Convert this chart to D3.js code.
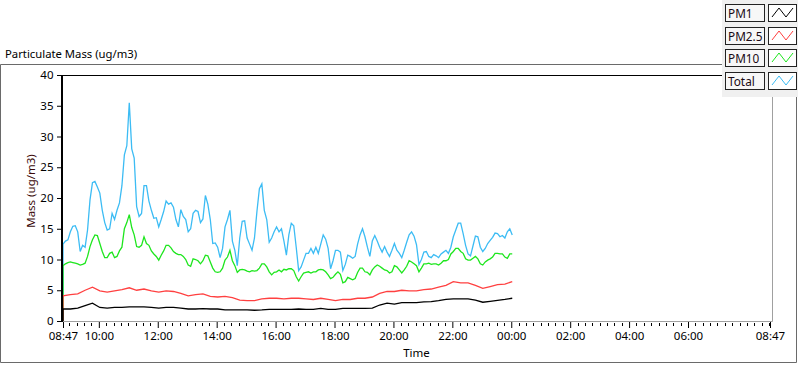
<!DOCTYPE html>
<html><head><meta charset="utf-8">
<script src="https://cdn.jsdelivr.net/npm/d3@7"></script>
<style>
body{margin:0;background:#fff}
svg{display:block}
text{font-family:"Segoe UI","Noto Sans",sans-serif}
</style>
</head><body>
<svg id="chart" width="800" height="365"></svg>
<script>
// ---------------- DATA ----------------
const chartTitle = "Particulate Mass (ug/m3)";
const yAxisTitle = "Mass (ug/m3)";
const xAxisTitle = "Time";
const startTime = "08:47";           // first reading
const fineStepMinutes = 5;           // PM10 / Total sampling
const coarseStepMinutes = 15;        // PM1 / PM2.5 sampling
const seriesNames = ["PM1", "PM2.5", "PM10", "Total"];
const xTickLabels = ["08:47","10:00","12:00","14:00","16:00","18:00","20:00","22:00","00:00","02:00","04:00","06:00","08:47"];
const yTickValues = [0,5,10,15,20,25,30,35,40];

// each series starts with the initial 0 reading at the start time
const totalValues = [0,
12.5,13.0,13.2,14.5,15.4,15.5,14.5,11.3,12.3,12.0,
14.8,19.7,22.5,22.7,21.8,20.8,18.0,16.0,14.8,15.0,
17.5,16.5,18.0,19.2,22.0,27.0,28.5,35.5,28.0,26.5,
18.6,17.0,17.5,22.0,22.0,19.5,18.0,16.7,16.8,15.3,
16.5,17.8,19.5,19.0,19.2,18.5,16.5,15.3,18.1,17.0,
16.5,14.5,15.0,17.5,18.0,17.8,16.0,16.6,20.4,19.0,
16.5,12.6,12.7,12.0,10.3,11.8,15.3,16.5,18.0,13.0,
11.5,9.0,13.5,16.2,16.3,13.5,12.5,11.5,13.5,17.8,
21.5,22.3,18.0,16.5,12.8,13.5,14.5,15.3,14.5,15.0,
13.0,10.7,14.0,15.9,15.5,12.0,8.2,8.8,9.9,11.0,
11.0,11.8,11.0,12.0,11.0,12.5,14.0,13.3,11.8,8.5,
9.8,11.5,11.5,11.2,8.2,9.2,10.7,10.5,10.2,10.5,
12.5,14.0,15.0,13.7,12.0,10.5,13.0,13.9,13.0,12.0,
11.2,12.1,11.2,10.5,11.5,12.6,11.5,11.0,10.3,11.5,
12.8,14.0,14.5,13.8,12.4,9.2,10.0,11.2,11.3,10.5,
10.3,10.8,10.6,10.3,10.9,11.2,11.5,11.0,12.0,13.7,
14.8,15.9,15.9,14.2,12.3,10.9,10.6,12.2,13.8,13.7,
12.0,11.3,11.8,12.6,13.1,13.6,14.3,14.2,13.7,13.9,
13.5,14.5,15.0,14.0];

const pm10Values = [0,
9.0,9.3,9.5,9.6,9.5,9.4,9.3,9.1,9.2,9.4,
10.5,12.1,13.2,14.0,13.9,12.6,11.3,10.3,10.3,11.0,
11.2,10.3,10.5,11.4,12.0,15.0,16.0,17.3,15.2,14.0,
12.1,12.0,12.3,13.7,12.6,12.3,11.4,10.9,10.5,9.9,
10.7,11.4,12.3,12.3,11.9,11.3,11.0,10.8,10.8,10.5,
10.0,9.1,8.9,10.1,10.0,9.8,9.3,9.8,10.7,10.6,
9.6,8.6,8.0,7.9,8.0,8.6,9.9,10.4,11.5,9.8,
9.0,7.9,8.3,8.4,8.3,8.1,8.0,8.2,8.1,8.2,
8.6,9.3,9.3,8.8,8.0,7.5,7.9,8.0,8.3,8.0,
8.4,8.3,8.5,8.5,8.2,7.2,6.5,7.2,7.8,7.9,
8.0,7.8,8.0,8.0,8.3,8.4,8.3,8.0,7.5,6.9,
7.1,7.6,8.0,7.6,6.2,6.4,7.1,6.9,6.7,6.9,
7.9,8.6,8.6,8.0,7.9,7.5,8.3,8.8,9.1,8.9,
8.6,8.3,8.2,7.8,8.0,9.0,8.8,8.3,7.8,8.3,
8.9,9.8,9.6,9.3,9.0,8.0,8.6,9.3,9.3,9.4,
9.2,9.3,9.3,9.1,9.4,9.8,9.8,10.0,10.9,11.3,
11.8,11.8,11.3,11.0,10.1,9.9,9.9,10.2,10.5,10.1,
9.3,9.1,9.6,9.9,10.1,10.4,11.0,11.0,10.9,10.9,
10.4,10.2,10.9,10.9];

const pm25Values = [0,
4.1,4.3,4.4,5.0,5.5,4.9,4.7,4.9,5.1,5.4,
5.0,5.2,4.9,4.7,4.9,4.8,4.5,4.1,4.3,4.4,
4.0,3.9,4.0,3.8,3.4,3.3,3.3,3.6,3.7,3.7,
3.6,3.7,3.7,3.6,3.5,3.7,3.5,3.3,3.5,3.5,
3.7,3.7,3.9,4.5,4.8,4.8,5.0,4.9,4.9,5.1,
5.2,5.5,5.8,6.4,6.2,6.2,5.8,5.3,5.6,5.9,
6.0,6.4];

const pm1Values = [0,
1.95,1.95,2.1,2.5,2.9,2.2,2.1,2.2,2.2,2.3,
2.3,2.3,2.2,2.1,2.2,2.2,2.1,1.95,1.95,2.0,
1.95,1.95,1.8,1.8,1.8,1.8,1.75,1.8,1.9,1.9,
1.9,1.9,1.95,1.9,1.9,2.05,1.9,1.9,2.05,2.05,
2.05,2.05,2.1,2.6,2.9,2.75,3.0,3.0,3.0,3.1,
3.15,3.3,3.5,3.6,3.6,3.6,3.4,3.05,3.2,3.35,
3.5,3.7];

// ---------------- STYLE / LAYOUT ----------------
const colors = {"PM1":"#000000","PM2.5":"#ff4040","PM10":"#1ee61e","Total":"#3cbcf4"};
const W = 800, H = 365;
const plot = {left:63, right:770, top:75, bottom:321};
const FONT = '"Segoe UI","Noto Sans",sans-serif';

const svg = d3.select("#chart");
const day = new Date(2021, 0, 1);
const [sh, sm] = startTime.split(":").map(Number);
const t0 = d3.timeMinute.offset(d3.timeHour.offset(day, sh), sm);
const t1 = d3.timeDay.offset(t0, 1);

// major tick dates from labels (roll over midnight)
const majorDates = [];
xTickLabels.forEach((lab, i) => {
  const [h, m] = lab.split(":").map(Number);
  let d = d3.timeMinute.offset(d3.timeHour.offset(day, h), m);
  while (i > 0 && d <= majorDates[i-1]) d = d3.timeDay.offset(d, 1);
  majorDates.push(d);
});

const x = d3.scaleTime().domain([t0, t1]).range([plot.left, plot.right]);
const y = d3.scaleLinear().domain([0, 40]).range([plot.bottom, plot.top]);

function toPoints(values, step) {
  return values.map((v, k) => ({t: d3.timeMinute.offset(t0, k === 0 ? 0 : (k - 1) * step), v}));
}
const series = [
  {name:"Total", pts: toPoints(totalValues, fineStepMinutes)},
  {name:"PM10", pts: toPoints(pm10Values, fineStepMinutes)},
  {name:"PM2.5", pts: toPoints(pm25Values, coarseStepMinutes)},
  {name:"PM1", pts: toPoints(pm1Values, coarseStepMinutes)}
];

// outer panel
svg.append("rect").attr("x",0).attr("y",0).attr("width",W).attr("height",H).attr("fill","#fff");
svg.append("text").attr("x",5).attr("y",58).attr("font-size",11.3).attr("fill","#000").text(chartTitle);
svg.append("path").attr("d","M0.5,64.5H723 M0.5,64.5V362.5H796.5V96").attr("fill","none").attr("stroke","#6a6a6a").attr("stroke-width",1);

// plot frame
svg.append("rect").attr("x",plot.left).attr("y",plot.top).attr("width",plot.right+2-plot.left).attr("height",plot.bottom-plot.top).attr("fill","#fff");
svg.append("path").attr("d",`M${plot.left},${plot.top+0.5}H${plot.right+2.5}V${plot.bottom+0.5}H${plot.left}`)
  .attr("fill","none").attr("stroke","#a0a0a0");
svg.append("line").attr("x1",plot.left).attr("x2",plot.right+2).attr("y1",plot.top+0.5).attr("y2",plot.top+0.5).attr("stroke","#000");

// lines
const line = d3.line().x(d => x(d.t)).y(d => y(d.v));
const gLines = svg.append("g");
series.forEach(s => {
  gLines.append("path").datum(s.pts).attr("d", line)
    .attr("fill","none").attr("stroke", colors[s.name]).attr("stroke-width",1.3)
    .attr("stroke-linejoin","miter");
});

// y axis
const yAxis = svg.append("g").attr("transform",`translate(${plot.left-1},0)`)
  .call(d3.axisLeft(y).tickValues(yTickValues).tickSize(5).tickPadding(3.5));
yAxis.select(".domain").remove();
yAxis.selectAll(".tick line").attr("stroke","#000");
yAxis.selectAll("text").attr("font-size",11.5).attr("fill","#000").style("font-family",FONT);
svg.append("line").attr("x1",plot.left-1).attr("x2",plot.left-1).attr("y1",plot.top).attr("y2",plot.bottom+1)
  .attr("stroke","#000").attr("stroke-width",2);

// x axis: minor ticks every 15 minutes
const minorDates = d3.timeMinute.every(15).range(t0, t1)
  .filter(d => !majorDates.some(m => +m === +d));
const gx = svg.append("g").attr("transform",`translate(0,${plot.bottom+1})`);
gx.selectAll("line.minor").data(minorDates).enter().append("line")
  .attr("class","minor")
  .attr("x1", d => Math.round(x(d))+0.5).attr("x2", d => Math.round(x(d))+0.5)
  .attr("y1",1).attr("y2",4).attr("stroke","#000");
const xAxis = gx.call(d3.axisBottom(x).tickValues(majorDates).tickSize(6).tickPadding(4)
  .tickFormat(d3.timeFormat("%H:%M")));
xAxis.select(".domain").remove();
xAxis.selectAll(".tick line").attr("stroke","#000");
xAxis.selectAll("text").attr("font-size",11.5).attr("fill","#000").style("font-family",FONT);
svg.append("line").attr("x1",plot.left).attr("x2",plot.right+2).attr("y1",plot.bottom+0.5).attr("y2",plot.bottom+0.5).attr("stroke","#a0a0a0");

// axis titles
svg.append("text").attr("transform",`translate(35,191) rotate(-90)`).attr("text-anchor","middle")
  .attr("font-size",11.5).attr("fill","#3a0808").text(yAxisTitle);
svg.append("text").attr("x",(plot.left+plot.right)/2).attr("y",357).attr("text-anchor","middle")
  .attr("font-size",11.5).attr("fill","#000").text(xAxisTitle);

// legend
const lg = svg.append("g");
lg.append("rect").attr("x",722).attr("y",0).attr("width",76).attr("height",97).attr("fill","#f0f0f0");
seriesNames.forEach((name, i) => {
  const ry = 4 + i * 22.7;
  const row = lg.append("g").attr("transform",`translate(0,${Math.round(ry)})`);
  row.append("rect").attr("x",725.5).attr("y",0.5).attr("width",39).attr("height",17)
    .attr("fill","#f7f7f7").attr("stroke","#222");
  row.append("text").attr("x",728).attr("y",13.5).attr("font-size",11.8).attr("fill","#1a0a14").text(name);
  row.append("rect").attr("x",768.5).attr("y",0.5).attr("width",28).attr("height",17)
    .attr("fill","#fff").attr("stroke","#222");
  row.append("path").attr("d","M772,13L779,4L786,13L793,4")
    .attr("fill","none").attr("stroke",colors[name]).attr("stroke-width",1);
});
</script>
</body></html>
